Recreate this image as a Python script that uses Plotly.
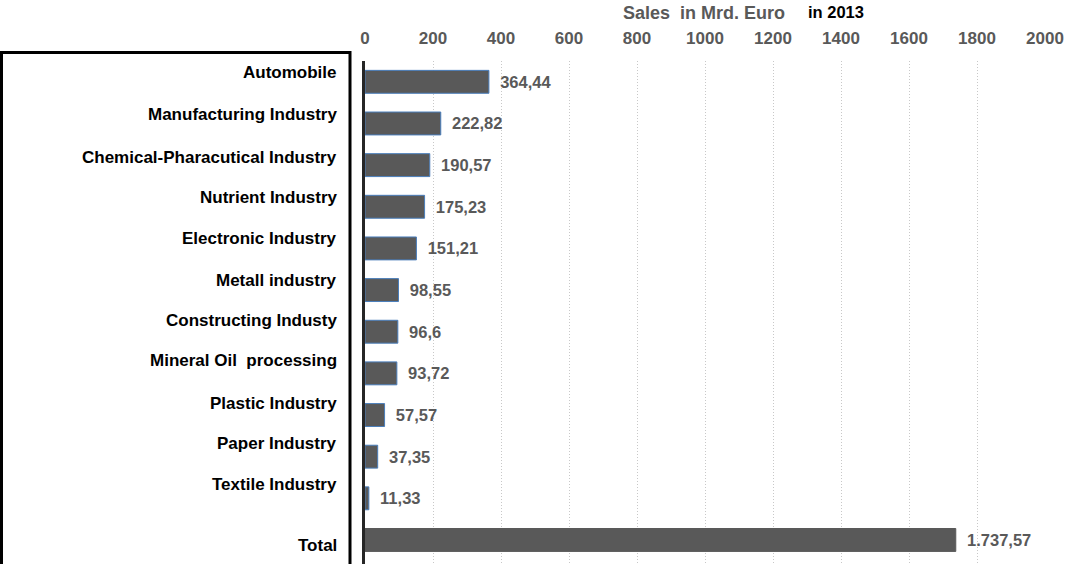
import plotly.graph_objects as go

# Sales by industry, billions of euros
categories = [
    "Automobile",
    "Manufacturing Industry",
    "Chemical-Pharacutical Industry",
    "Nutrient Industry",
    "Electronic Industry",
    "Metall industry",
    "Constructing Industy",
    "Mineral Oil  processing",
    "Plastic Industry",
    "Paper Industry",
    "Textile Industry",
    "Total",
]
sales = [364.44, 222.82, 190.57, 175.23, 151.21, 98.55, 96.6, 93.72, 57.57, 37.35, 11.33, 1737.57]
x_ticks = [0, 200, 400, 600, 800, 1000, 1200, 1400, 1600, 1800, 2000]

# vertical offsets (px) of the category labels inside the left box
label_shift_px = [9, 9, 8, 9.5, 10, 10, 11, 13, 12, 13.5, 13.5, -6]

W, H = 1070, 564
L, R, T, B = 365, 25, 61, 0
plot_w = W - L - R
plot_h = H - T - B


def px_x(px):
    return (px - L) / plot_w


def px_y(py):
    return (H - B - py) / plot_h


GRAY = "#595959"
FONT = "Liberation Sans, Arial, sans-serif"

outline = ["#4A7EBB"] * (len(categories) - 1) + [GRAY]

fig = go.Figure(
    go.Bar(
        x=sales,
        y=categories,
        orientation="h",
        marker=dict(color=GRAY, line=dict(color=outline, width=1)),
        texttemplate="\u2002%{x:,}",
        textposition="outside",
        textfont=dict(family=FONT, size=16.5, color=GRAY, weight="bold"),
        cliponaxis=False,
        hoverinfo="skip",
    )
)

annotations = []
for cat, shift in zip(categories, label_shift_px):
    annotations.append(
        dict(
            text=f"<b>{cat}</b>",
            xref="paper", x=px_x(339), xanchor="right",
            yref="y", y=cat, yanchor="middle", yshift=shift,
            showarrow=False,
            font=dict(family=FONT, size=17, color="#000000"),
        )
    )

annotations.append(
    dict(
        text="<b>Sales  in Mrd. Euro</b>",
        xref="paper", x=px_x(704), xanchor="center",
        yref="paper", y=px_y(13), yanchor="middle",
        showarrow=False,
        font=dict(family=FONT, size=18, color=GRAY),
    )
)
annotations.append(
    dict(
        text="<b>in 2013</b>",
        xref="paper", x=px_x(836), xanchor="center",
        yref="paper", y=px_y(12), yanchor="middle",
        showarrow=False,
        font=dict(family=FONT, size=16.5, color="#000000"),
    )
)

fig.update_layout(
    width=W,
    height=H,
    margin=dict(l=L, r=R, t=T, b=B, pad=0),
    paper_bgcolor="white",
    plot_bgcolor="white",
    separators=",.",
    showlegend=False,
    bargap=0.45,
    font=dict(family=FONT),
    annotations=annotations,
    shapes=[
        dict(
            type="rect", xref="paper", yref="paper",
            x0=px_x(1.5), x1=px_x(350), y0=px_y(570), y1=px_y(52.5),
            line=dict(color="#000000", width=3),
            fillcolor="rgba(0,0,0,0)",
            layer="above",
        )
    ],
    xaxis=dict(
        side="top",
        range=[0, 2000],
        tickvals=x_ticks,
        tickfont=dict(family=FONT, size=17, color=GRAY, weight="bold"),
        ticks="outside",
        ticklen=9,
        tickcolor="rgba(0,0,0,0)",
        showgrid=True,
        gridcolor="#C8C8C8",
        griddash="1px,2px",
        gridwidth=1,
        zeroline=False,
        showline=False,
        automargin=False,
        fixedrange=True,
    ),
    yaxis=dict(
        type="category",
        categoryorder="array",
        categoryarray=categories,
        range=[len(categories) - 0.5 + 0.077, -0.5],
        showticklabels=False,
        ticks="",
        showgrid=False,
        zeroline=False,
        showline=True,
        linecolor="#262626",
        linewidth=3,
        automargin=False,
        fixedrange=True,
    ),
)

fig.write_html("out.html")
